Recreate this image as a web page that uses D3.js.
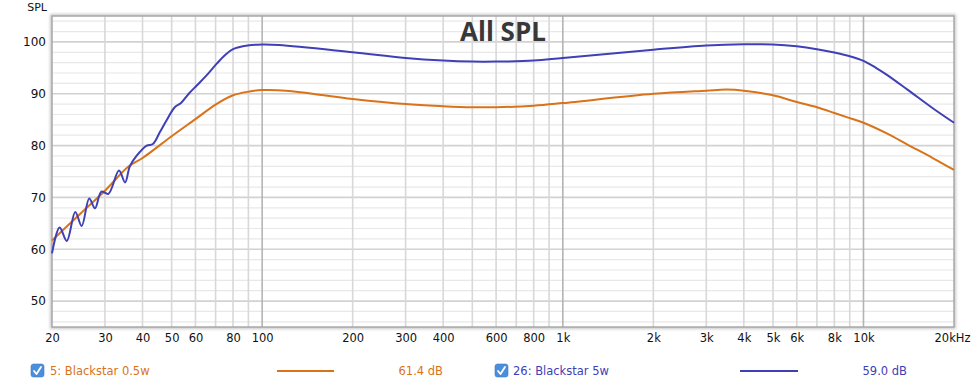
<!DOCTYPE html>
<html>
<head>
    <meta charset="utf-8">
    <title>All SPL</title>
    <style>
        body { margin: 0; background: white; }
        svg { display: block; }
    </style>
</head>
<body>
    <script src="https://cdnjs.cloudflare.com/ajax/libs/d3/7.8.5/d3.min.js"></script>
    <script>

// series: [frequency Hz, SPL dB]
var freqOrange = [20, 25, 30, 36, 40, 50, 60, 70, 80, 90, 100, 120, 200, 300, 400, 500, 600, 800, 1000, 2000, 3000, 3500, 4000, 5000, 6000, 7000, 8000, 9000, 10000, 12000, 14000, 17000, 20000];
var splOrange  = [61.7, 67.0, 71.3, 76.0, 77.6, 81.8, 85.1, 87.9, 89.7, 90.4, 90.7, 90.6, 89.0, 88.0, 87.6, 87.4, 87.4, 87.7, 88.2, 90.0, 90.6, 90.8, 90.6, 89.7, 88.4, 87.4, 86.3, 85.3, 84.4, 82.3, 80.2, 77.6, 75.3];

var freqBlue = [20, 21.2, 22.4, 23.9, 25.1, 26.6, 27.8, 29.2, 30.8, 33.4, 35.0, 36.3, 38.2, 41.3, 43.3, 45.7, 48.0, 51.2, 53.7, 57, 60.6, 65.2, 70.6, 75, 80, 89.5, 100, 114, 200, 300, 400, 500, 600, 800, 1000, 2000, 3000, 4000, 5000, 6000, 7000, 8000, 9000, 10000, 11000, 12000, 14000, 17000, 20000];
var splBlue  = [59.2, 64.2, 61.6, 67.2, 64.5, 69.8, 67.9, 71.1, 70.7, 75.2, 72.9, 76.0, 78.0, 80.0, 80.3, 82.6, 84.8, 87.4, 88.2, 90.0, 91.6, 93.5, 95.8, 97.4, 98.6, 99.3, 99.5, 99.4, 98.0, 96.9, 96.4, 96.2, 96.2, 96.4, 96.9, 98.5, 99.3, 99.55, 99.5, 99.15, 98.6, 97.95, 97.25, 96.35, 95.0, 93.6, 90.8, 87.2, 84.4];

var xTickValues = [20, 30, 40, 50, 60, 80, 100, 200, 300, 400, 600, 800, 1000, 2000, 3000, 4000, 5000, 6000, 8000, 10000, 20000];
var yTickValues = [50, 60, 70, 80, 90, 100];

var legendNames  = ["5: Blackstar 0.5w", "26: Blackstar 5w"];
var legendLevels = ["61.4 dB", "59.0 dB"];

var config = {
    width: 980,
    height: 387,
    left: 52, right: 954, top: 16, bottom: 327,
    orange: "#d9731a",
    blue: "#4040b6",
    font: "DejaVu Sans, Verdana, sans-serif"
};

function zip(fs, vs) {
    return fs.map(function (f, i) { return { f: f, v: vs[i] }; });
}

function draw() {
    var svg = d3.select("body").append("svg")
        .attr("width", config.width)
        .attr("height", config.height);

    var x = d3.scaleLog().domain([20, 20000]).range([config.left, config.right]);
    var y = d3.scaleLinear().domain([45, 105]).range([config.bottom, config.top]);

    var defs = svg.append("defs");
    var filt = defs.append("filter").attr("id", "shadow").attr("x", "-5%").attr("y", "-5%").attr("width", "110%").attr("height", "110%");
    filt.append("feGaussianBlur").attr("stdDeviation", 1.5);

    // frame shadow
    svg.append("rect")
        .attr("x", config.left).attr("y", config.top)
        .attr("width", config.right - config.left).attr("height", config.bottom - config.top)
        .attr("fill", "none").attr("stroke", "#c8c8c8").attr("stroke-width", 4)
        .attr("filter", "url(#shadow)");

    svg.append("rect")
        .attr("x", config.left).attr("y", config.top)
        .attr("width", config.right - config.left).attr("height", config.bottom - config.top)
        .attr("fill", "white");

    // horizontal grid, every 2 dB
    var hLines = d3.range(46, 105, 2);
    svg.append("g").selectAll("line").data(hLines).enter().append("line")
        .attr("x1", config.left).attr("x2", config.right)
        .attr("y1", function (d) { return y(d); })
        .attr("y2", function (d) { return y(d); })
        .attr("stroke", function (d) { return d % 10 === 0 ? "#d2d2d2" : "#e8e8e8"; })
        .attr("stroke-width", function (d) { return d % 10 === 0 ? 1.6 : 1.2; });

    // vertical grid 1-2-3...9 per decade
    var vLines = [];
    [10, 100, 1000, 10000].forEach(function (dec) {
        for (var k = 1; k < 10; k++) {
            var f = dec * k;
            if (f > 20 && f < 20000) vLines.push(f);
        }
    });
    svg.append("g").selectAll("line").data(vLines).enter().append("line")
        .attr("x1", function (d) { return x(d); })
        .attr("x2", function (d) { return x(d); })
        .attr("y1", config.top).attr("y2", config.bottom)
        .attr("stroke", function (d) { return [100, 1000, 10000].indexOf(d) >= 0 ? "#b4b4b4" : "#d8d8d8"; })
        .attr("stroke-width", 1.6);

    // frame
    svg.append("rect")
        .attr("x", config.left).attr("y", config.top)
        .attr("width", config.right - config.left).attr("height", config.bottom - config.top)
        .attr("fill", "none").attr("stroke", "#a8a8a8").attr("stroke-width", 1.5);

    // title
    svg.append("text")
        .attr("x", 503).attr("y", 41)
        .attr("text-anchor", "middle")
        .attr("font-family", "Open Sans, sans-serif")
        .attr("font-weight", "bold")
        .attr("font-size", 26)
        .attr("fill", "#383838")
        .text("All SPL");

    // curves
    var line = d3.line()
        .x(function (d) { return x(d.f); })
        .y(function (d) { return y(d.v); })
        .curve(d3.curveCatmullRom.alpha(0.5));

    svg.append("path").datum(zip(freqOrange, splOrange))
        .attr("d", line).attr("fill", "none")
        .attr("stroke", config.orange).attr("stroke-width", 2);
    svg.append("path").datum(zip(freqBlue, splBlue))
        .attr("d", line).attr("fill", "none")
        .attr("stroke", config.blue).attr("stroke-width", 2);

    // axes
    var xAxis = d3.axisBottom(x).tickValues(xTickValues).tickSize(0).tickPadding(7)
        .tickFormat(function (d) {
            if (d === 20000) return "20kHz";
            return d >= 1000 ? (d / 1000) + "k" : d;
        });
    var gx = svg.append("g").attr("transform", "translate(0," + config.bottom + ")").call(xAxis);
    gx.select(".domain").remove();
    gx.selectAll("text").attr("font-family", config.font).attr("font-size", 11.5).attr("fill", "#111");
    gx.selectAll("text").filter(function (d) { return d === 20000; }).attr("dx", -2);

    var yAxis = d3.axisLeft(y).tickValues(yTickValues).tickSize(0).tickPadding(5);
    var gy = svg.append("g").attr("transform", "translate(" + (config.left - 1) + ",0)").call(yAxis);
    gy.select(".domain").remove();
    gy.selectAll("text").attr("font-family", config.font).attr("font-size", 12).attr("fill", "#111");

    svg.append("text")
        .attr("x", 47).attr("y", 11)
        .attr("text-anchor", "end")
        .attr("font-family", config.font).attr("font-size", 11)
        .attr("fill", "#111")
        .text("SPL");

    // legend
    var legend = [
        { name: legendNames[0], level: legendLevels[0], color: config.orange, box: 31, text: 50, l1: 277, l2: 334, lv: 443 },
        { name: legendNames[1], level: legendLevels[1], color: config.blue, box: 495, text: 513, l1: 740, l2: 798, lv: 907 }
    ];
    var ly = 371;
    var lg = svg.append("g").selectAll("g").data(legend).enter().append("g");
    lg.append("rect")
        .attr("x", function (d) { return d.box; }).attr("y", ly - 7)
        .attr("width", 13).attr("height", 13).attr("rx", 2.5)
        .attr("fill", "#4b8fdc").attr("stroke", "#3a78c4").attr("stroke-width", 0.6);
    lg.append("path")
        .attr("d", function (d) {
            var b = d.box;
            return "M" + (b + 3) + "," + (ly) + " L" + (b + 5.5) + "," + (ly + 3) + " L" + (b + 10) + "," + (ly - 4);
        })
        .attr("fill", "none").attr("stroke", "white").attr("stroke-width", 1.8)
        .attr("stroke-linecap", "round").attr("stroke-linejoin", "round");
    lg.append("text")
        .attr("x", function (d) { return d.text; }).attr("y", ly + 4)
        .attr("font-family", config.font).attr("font-size", 11.5)
        .attr("fill", function (d) { return d.color; })
        .text(function (d) { return d.name; });
    lg.append("line")
        .attr("x1", function (d) { return d.l1; }).attr("x2", function (d) { return d.l2; })
        .attr("y1", ly).attr("y2", ly)
        .attr("stroke", function (d) { return d.color; }).attr("stroke-width", 2);
    lg.append("text")
        .attr("x", function (d) { return d.lv; }).attr("y", ly + 4)
        .attr("text-anchor", "end")
        .attr("font-family", config.font).attr("font-size", 11.5)
        .attr("fill", function (d) { return d.color; })
        .text(function (d) { return d.level; });
}

draw();
    </script>
</body>
</html>
